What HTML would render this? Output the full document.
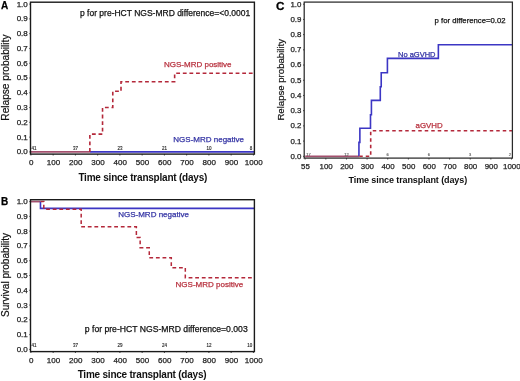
<!DOCTYPE html>
<html><head><meta charset="utf-8"><style>
html,body{margin:0;padding:0;background:#fff;width:520px;height:381px;overflow:hidden;}
svg{display:block;font-family:"Liberation Sans", sans-serif;will-change:transform;}
</style></head><body>
<svg width="520" height="381" viewBox="0 0 520 381">
<rect width="520" height="381" fill="#fff"/>
<path d="M30.90,151.90 L89.86,151.90" fill="none" stroke="#a4506e" stroke-width="1.7" stroke-linejoin="miter"/>
<path d="M89.86,151.90 L254.40,151.90" fill="none" stroke="#3c36c4" stroke-width="1.6" stroke-linejoin="miter"/>
<path d="M89.86,151.90 L89.86,151.90 L89.86,134.16 L102.54,134.16 L102.54,107.56 L112.78,107.56 L112.78,91.30 L121.01,91.30 L121.01,81.70 L174.64,81.70 L174.64,73.27 L254.40,73.27" fill="none" stroke="#b4283a" stroke-width="1.6" stroke-dasharray="3.8 2.8" stroke-linejoin="miter"/>
<line x1="29.30" y1="151.90" x2="30.50" y2="151.90" stroke="#1a1a1a" stroke-width="0.8" />
<text x="27.80" y="154.35" font-size="8" text-anchor="end" font-weight="normal" fill="#222" stroke="#222" stroke-width="0.25" >0.0</text>
<line x1="29.30" y1="137.12" x2="30.50" y2="137.12" stroke="#1a1a1a" stroke-width="0.8" />
<text x="27.80" y="139.57" font-size="8" text-anchor="end" font-weight="normal" fill="#222" stroke="#222" stroke-width="0.25" >0.1</text>
<line x1="29.30" y1="122.34" x2="30.50" y2="122.34" stroke="#1a1a1a" stroke-width="0.8" />
<text x="27.80" y="124.79" font-size="8" text-anchor="end" font-weight="normal" fill="#222" stroke="#222" stroke-width="0.25" >0.2</text>
<line x1="29.30" y1="107.56" x2="30.50" y2="107.56" stroke="#1a1a1a" stroke-width="0.8" />
<text x="27.80" y="110.01" font-size="8" text-anchor="end" font-weight="normal" fill="#222" stroke="#222" stroke-width="0.25" >0.3</text>
<line x1="29.30" y1="92.78" x2="30.50" y2="92.78" stroke="#1a1a1a" stroke-width="0.8" />
<text x="27.80" y="95.23" font-size="8" text-anchor="end" font-weight="normal" fill="#222" stroke="#222" stroke-width="0.25" >0.4</text>
<line x1="29.30" y1="78.00" x2="30.50" y2="78.00" stroke="#1a1a1a" stroke-width="0.8" />
<text x="27.80" y="80.45" font-size="8" text-anchor="end" font-weight="normal" fill="#222" stroke="#222" stroke-width="0.25" >0.5</text>
<line x1="29.30" y1="63.22" x2="30.50" y2="63.22" stroke="#1a1a1a" stroke-width="0.8" />
<text x="27.80" y="65.67" font-size="8" text-anchor="end" font-weight="normal" fill="#222" stroke="#222" stroke-width="0.25" >0.6</text>
<line x1="29.30" y1="48.44" x2="30.50" y2="48.44" stroke="#1a1a1a" stroke-width="0.8" />
<text x="27.80" y="50.89" font-size="8" text-anchor="end" font-weight="normal" fill="#222" stroke="#222" stroke-width="0.25" >0.7</text>
<line x1="29.30" y1="33.66" x2="30.50" y2="33.66" stroke="#1a1a1a" stroke-width="0.8" />
<text x="27.80" y="36.11" font-size="8" text-anchor="end" font-weight="normal" fill="#222" stroke="#222" stroke-width="0.25" >0.8</text>
<line x1="29.30" y1="18.88" x2="30.50" y2="18.88" stroke="#1a1a1a" stroke-width="0.8" />
<text x="27.80" y="21.33" font-size="8" text-anchor="end" font-weight="normal" fill="#222" stroke="#222" stroke-width="0.25" >0.9</text>
<line x1="29.30" y1="4.10" x2="30.50" y2="4.10" stroke="#1a1a1a" stroke-width="0.8" />
<text x="27.80" y="6.55" font-size="8" text-anchor="end" font-weight="normal" fill="#222" stroke="#222" stroke-width="0.25" >1.0</text>
<line x1="30.90" y1="154.10" x2="30.90" y2="155.50" stroke="#1a1a1a" stroke-width="0.8" />
<text x="31.25" y="165.10" font-size="8" text-anchor="middle" font-weight="normal" fill="#222" stroke="#222" stroke-width="0.25" >0</text>
<line x1="53.15" y1="154.10" x2="53.15" y2="155.50" stroke="#1a1a1a" stroke-width="0.8" />
<text x="53.50" y="165.10" font-size="8" text-anchor="middle" font-weight="normal" fill="#222" stroke="#222" stroke-width="0.25" >100</text>
<line x1="75.40" y1="154.10" x2="75.40" y2="155.50" stroke="#1a1a1a" stroke-width="0.8" />
<text x="75.75" y="165.10" font-size="8" text-anchor="middle" font-weight="normal" fill="#222" stroke="#222" stroke-width="0.25" >200</text>
<line x1="97.65" y1="154.10" x2="97.65" y2="155.50" stroke="#1a1a1a" stroke-width="0.8" />
<text x="98.00" y="165.10" font-size="8" text-anchor="middle" font-weight="normal" fill="#222" stroke="#222" stroke-width="0.25" >300</text>
<line x1="119.90" y1="154.10" x2="119.90" y2="155.50" stroke="#1a1a1a" stroke-width="0.8" />
<text x="120.25" y="165.10" font-size="8" text-anchor="middle" font-weight="normal" fill="#222" stroke="#222" stroke-width="0.25" >400</text>
<line x1="142.15" y1="154.10" x2="142.15" y2="155.50" stroke="#1a1a1a" stroke-width="0.8" />
<text x="142.50" y="165.10" font-size="8" text-anchor="middle" font-weight="normal" fill="#222" stroke="#222" stroke-width="0.25" >500</text>
<line x1="164.40" y1="154.10" x2="164.40" y2="155.50" stroke="#1a1a1a" stroke-width="0.8" />
<text x="164.75" y="165.10" font-size="8" text-anchor="middle" font-weight="normal" fill="#222" stroke="#222" stroke-width="0.25" >600</text>
<line x1="186.65" y1="154.10" x2="186.65" y2="155.50" stroke="#1a1a1a" stroke-width="0.8" />
<text x="187.00" y="165.10" font-size="8" text-anchor="middle" font-weight="normal" fill="#222" stroke="#222" stroke-width="0.25" >700</text>
<line x1="208.90" y1="154.10" x2="208.90" y2="155.50" stroke="#1a1a1a" stroke-width="0.8" />
<text x="209.25" y="165.10" font-size="8" text-anchor="middle" font-weight="normal" fill="#222" stroke="#222" stroke-width="0.25" >800</text>
<line x1="231.15" y1="154.10" x2="231.15" y2="155.50" stroke="#1a1a1a" stroke-width="0.8" />
<text x="231.50" y="165.10" font-size="8" text-anchor="middle" font-weight="normal" fill="#222" stroke="#222" stroke-width="0.25" >900</text>
<line x1="253.40" y1="154.10" x2="253.40" y2="155.50" stroke="#1a1a1a" stroke-width="0.8" />
<text x="253.75" y="165.10" font-size="8" text-anchor="middle" font-weight="normal" fill="#222" stroke="#222" stroke-width="0.25" >1000</text>
<rect x="30.50" y="2.20" width="223.90" height="151.90" fill="none" stroke="#1a1a1a" stroke-width="1.4"/>
<text x="0" y="0" font-size="10.15" text-anchor="middle" fill="#111" stroke="#111" stroke-width="0.2" transform="translate(8.70,77.60) rotate(-90)">Relapse probability</text>
<text x="142.75" y="180.50" font-size="10" text-anchor="middle" font-weight="bold" fill="#111" stroke="#111" stroke-width="0" letter-spacing="-0.22">Time since transplant (days)</text>
<text x="31.60" y="149.80" font-size="4.5" text-anchor="start" font-weight="normal" fill="#222" stroke="#222" stroke-width="0.12" >41</text>
<text x="75.40" y="149.80" font-size="4.5" text-anchor="middle" font-weight="normal" fill="#222" stroke="#222" stroke-width="0.12" >37</text>
<text x="119.90" y="149.80" font-size="4.5" text-anchor="middle" font-weight="normal" fill="#222" stroke="#222" stroke-width="0.12" >23</text>
<text x="164.40" y="149.80" font-size="4.5" text-anchor="middle" font-weight="normal" fill="#222" stroke="#222" stroke-width="0.12" >21</text>
<text x="208.90" y="149.80" font-size="4.5" text-anchor="middle" font-weight="normal" fill="#222" stroke="#222" stroke-width="0.12" >10</text>
<text x="252.30" y="149.80" font-size="4.5" text-anchor="end" font-weight="normal" fill="#222" stroke="#222" stroke-width="0.12" >8</text>
<text x="1.00" y="8.60" font-size="10" text-anchor="start" font-weight="bold" fill="#000" stroke="#000" stroke-width="0.25" >A</text>
<text x="80.00" y="16.00" font-size="8.5" text-anchor="start" font-weight="normal" fill="#111" stroke="#111" stroke-width="0.25" >p for pre-HCT NGS-MRD difference=&lt;0.0001</text>
<text x="164.00" y="66.70" font-size="8" text-anchor="start" font-weight="normal" fill="#b8323f" stroke="#b8323f" stroke-width="0.25" >NGS-MRD positive</text>
<text x="173.30" y="141.80" font-size="8" text-anchor="start" font-weight="normal" fill="#3434a4" stroke="#3434a4" stroke-width="0.25" >NGS-MRD negative</text>
<path d="M30.90,201.60 L40.47,201.60" fill="none" stroke="#a4506e" stroke-width="1.7" stroke-linejoin="miter"/>
<path d="M40.47,201.60 L40.47,201.60 L40.47,208.40 L254.40,208.40" fill="none" stroke="#3c36c4" stroke-width="1.6" stroke-linejoin="miter"/>
<path d="M40.47,201.60 L43.80,201.60 L43.80,209.14 L81.19,209.14 L81.19,226.87 L136.37,226.87 L136.37,237.52 L140.15,237.52 L140.15,247.71 L149.27,247.71 L149.27,257.76 L171.30,257.76 L171.30,267.67 L185.31,267.67 L185.31,277.86 L254.40,277.86" fill="none" stroke="#b4283a" stroke-width="1.5" stroke-dasharray="3.8 2.8" stroke-linejoin="miter"/>
<line x1="29.30" y1="349.40" x2="30.50" y2="349.40" stroke="#1a1a1a" stroke-width="0.8" />
<text x="27.80" y="351.85" font-size="8" text-anchor="end" font-weight="normal" fill="#222" stroke="#222" stroke-width="0.25" >0.0</text>
<line x1="29.30" y1="334.62" x2="30.50" y2="334.62" stroke="#1a1a1a" stroke-width="0.8" />
<text x="27.80" y="337.07" font-size="8" text-anchor="end" font-weight="normal" fill="#222" stroke="#222" stroke-width="0.25" >0.1</text>
<line x1="29.30" y1="319.84" x2="30.50" y2="319.84" stroke="#1a1a1a" stroke-width="0.8" />
<text x="27.80" y="322.29" font-size="8" text-anchor="end" font-weight="normal" fill="#222" stroke="#222" stroke-width="0.25" >0.2</text>
<line x1="29.30" y1="305.06" x2="30.50" y2="305.06" stroke="#1a1a1a" stroke-width="0.8" />
<text x="27.80" y="307.51" font-size="8" text-anchor="end" font-weight="normal" fill="#222" stroke="#222" stroke-width="0.25" >0.3</text>
<line x1="29.30" y1="290.28" x2="30.50" y2="290.28" stroke="#1a1a1a" stroke-width="0.8" />
<text x="27.80" y="292.73" font-size="8" text-anchor="end" font-weight="normal" fill="#222" stroke="#222" stroke-width="0.25" >0.4</text>
<line x1="29.30" y1="275.50" x2="30.50" y2="275.50" stroke="#1a1a1a" stroke-width="0.8" />
<text x="27.80" y="277.95" font-size="8" text-anchor="end" font-weight="normal" fill="#222" stroke="#222" stroke-width="0.25" >0.5</text>
<line x1="29.30" y1="260.72" x2="30.50" y2="260.72" stroke="#1a1a1a" stroke-width="0.8" />
<text x="27.80" y="263.17" font-size="8" text-anchor="end" font-weight="normal" fill="#222" stroke="#222" stroke-width="0.25" >0.6</text>
<line x1="29.30" y1="245.94" x2="30.50" y2="245.94" stroke="#1a1a1a" stroke-width="0.8" />
<text x="27.80" y="248.39" font-size="8" text-anchor="end" font-weight="normal" fill="#222" stroke="#222" stroke-width="0.25" >0.7</text>
<line x1="29.30" y1="231.16" x2="30.50" y2="231.16" stroke="#1a1a1a" stroke-width="0.8" />
<text x="27.80" y="233.61" font-size="8" text-anchor="end" font-weight="normal" fill="#222" stroke="#222" stroke-width="0.25" >0.8</text>
<line x1="29.30" y1="216.38" x2="30.50" y2="216.38" stroke="#1a1a1a" stroke-width="0.8" />
<text x="27.80" y="218.83" font-size="8" text-anchor="end" font-weight="normal" fill="#222" stroke="#222" stroke-width="0.25" >0.9</text>
<line x1="29.30" y1="201.60" x2="30.50" y2="201.60" stroke="#1a1a1a" stroke-width="0.8" />
<text x="27.80" y="204.05" font-size="8" text-anchor="end" font-weight="normal" fill="#222" stroke="#222" stroke-width="0.25" >1.0</text>
<line x1="30.90" y1="351.60" x2="30.90" y2="353.00" stroke="#1a1a1a" stroke-width="0.8" />
<text x="31.25" y="362.60" font-size="8" text-anchor="middle" font-weight="normal" fill="#222" stroke="#222" stroke-width="0.25" >0</text>
<line x1="53.15" y1="351.60" x2="53.15" y2="353.00" stroke="#1a1a1a" stroke-width="0.8" />
<text x="53.50" y="362.60" font-size="8" text-anchor="middle" font-weight="normal" fill="#222" stroke="#222" stroke-width="0.25" >100</text>
<line x1="75.40" y1="351.60" x2="75.40" y2="353.00" stroke="#1a1a1a" stroke-width="0.8" />
<text x="75.75" y="362.60" font-size="8" text-anchor="middle" font-weight="normal" fill="#222" stroke="#222" stroke-width="0.25" >200</text>
<line x1="97.65" y1="351.60" x2="97.65" y2="353.00" stroke="#1a1a1a" stroke-width="0.8" />
<text x="98.00" y="362.60" font-size="8" text-anchor="middle" font-weight="normal" fill="#222" stroke="#222" stroke-width="0.25" >300</text>
<line x1="119.90" y1="351.60" x2="119.90" y2="353.00" stroke="#1a1a1a" stroke-width="0.8" />
<text x="120.25" y="362.60" font-size="8" text-anchor="middle" font-weight="normal" fill="#222" stroke="#222" stroke-width="0.25" >400</text>
<line x1="142.15" y1="351.60" x2="142.15" y2="353.00" stroke="#1a1a1a" stroke-width="0.8" />
<text x="142.50" y="362.60" font-size="8" text-anchor="middle" font-weight="normal" fill="#222" stroke="#222" stroke-width="0.25" >500</text>
<line x1="164.40" y1="351.60" x2="164.40" y2="353.00" stroke="#1a1a1a" stroke-width="0.8" />
<text x="164.75" y="362.60" font-size="8" text-anchor="middle" font-weight="normal" fill="#222" stroke="#222" stroke-width="0.25" >600</text>
<line x1="186.65" y1="351.60" x2="186.65" y2="353.00" stroke="#1a1a1a" stroke-width="0.8" />
<text x="187.00" y="362.60" font-size="8" text-anchor="middle" font-weight="normal" fill="#222" stroke="#222" stroke-width="0.25" >700</text>
<line x1="208.90" y1="351.60" x2="208.90" y2="353.00" stroke="#1a1a1a" stroke-width="0.8" />
<text x="209.25" y="362.60" font-size="8" text-anchor="middle" font-weight="normal" fill="#222" stroke="#222" stroke-width="0.25" >800</text>
<line x1="231.15" y1="351.60" x2="231.15" y2="353.00" stroke="#1a1a1a" stroke-width="0.8" />
<text x="231.50" y="362.60" font-size="8" text-anchor="middle" font-weight="normal" fill="#222" stroke="#222" stroke-width="0.25" >900</text>
<line x1="253.40" y1="351.60" x2="253.40" y2="353.00" stroke="#1a1a1a" stroke-width="0.8" />
<text x="253.75" y="362.60" font-size="8" text-anchor="middle" font-weight="normal" fill="#222" stroke="#222" stroke-width="0.25" >1000</text>
<rect x="30.50" y="199.70" width="223.90" height="151.90" fill="none" stroke="#1a1a1a" stroke-width="1.4"/>
<text x="0" y="0" font-size="10" text-anchor="middle" fill="#111" stroke="#111" stroke-width="0.2" transform="translate(8.70,275.00) rotate(-90)">Survival probability</text>
<text x="142.00" y="378.10" font-size="10" text-anchor="middle" font-weight="bold" fill="#111" stroke="#111" stroke-width="0" letter-spacing="-0.22">Time since transplant (days)</text>
<text x="31.60" y="347.30" font-size="4.5" text-anchor="start" font-weight="normal" fill="#222" stroke="#222" stroke-width="0.12" >41</text>
<text x="75.40" y="347.30" font-size="4.5" text-anchor="middle" font-weight="normal" fill="#222" stroke="#222" stroke-width="0.12" >37</text>
<text x="119.90" y="347.30" font-size="4.5" text-anchor="middle" font-weight="normal" fill="#222" stroke="#222" stroke-width="0.12" >29</text>
<text x="164.40" y="347.30" font-size="4.5" text-anchor="middle" font-weight="normal" fill="#222" stroke="#222" stroke-width="0.12" >24</text>
<text x="208.90" y="347.30" font-size="4.5" text-anchor="middle" font-weight="normal" fill="#222" stroke="#222" stroke-width="0.12" >12</text>
<text x="252.30" y="347.30" font-size="4.5" text-anchor="end" font-weight="normal" fill="#222" stroke="#222" stroke-width="0.12" >10</text>
<text x="1.00" y="205.00" font-size="10" text-anchor="start" font-weight="bold" fill="#000" stroke="#000" stroke-width="0.25" >B</text>
<text x="84.80" y="331.60" font-size="8.63" text-anchor="start" font-weight="normal" fill="#111" stroke="#111" stroke-width="0.25" >p for pre-HCT NGS-MRD difference=0.003</text>
<text x="175.60" y="287.00" font-size="8" text-anchor="start" font-weight="normal" fill="#b8323f" stroke="#b8323f" stroke-width="0.25" >NGS-MRD positive</text>
<text x="118.20" y="216.90" font-size="8" text-anchor="start" font-weight="normal" fill="#3434a4" stroke="#3434a4" stroke-width="0.25" >NGS-MRD negative</text>
<path d="M305.20,156.30 L358.94,156.30" fill="none" stroke="#a4506e" stroke-width="1.7" stroke-linejoin="miter"/>
<path d="M358.94,156.30 L358.94,156.30 L358.94,142.40 L359.87,142.40 L359.87,128.31 L370.49,128.31 L370.49,114.70 L371.42,114.70 L371.42,100.40 L380.29,100.40 L380.29,86.79 L381.22,86.79 L381.22,72.71 L387.41,72.71 L387.41,58.39 L438.37,58.39 L438.37,44.81 L512.40,44.81" fill="none" stroke="#3c36c4" stroke-width="1.6" stroke-linejoin="miter"/>
<path d="M359.25,156.30 L370.70,156.30 L370.70,130.79 L512.40,130.79" fill="none" stroke="#b4283a" stroke-width="1.6" stroke-dasharray="3.5 3.0" stroke-linejoin="miter"/>
<line x1="303.00" y1="156.30" x2="304.20" y2="156.30" stroke="#1a1a1a" stroke-width="0.8" />
<text x="301.40" y="158.75" font-size="7.9" text-anchor="end" font-weight="normal" fill="#222" stroke="#222" stroke-width="0.25" >0.0</text>
<line x1="303.00" y1="141.09" x2="304.20" y2="141.09" stroke="#1a1a1a" stroke-width="0.8" />
<text x="301.40" y="143.54" font-size="7.9" text-anchor="end" font-weight="normal" fill="#222" stroke="#222" stroke-width="0.25" >0.1</text>
<line x1="303.00" y1="125.88" x2="304.20" y2="125.88" stroke="#1a1a1a" stroke-width="0.8" />
<text x="301.40" y="128.33" font-size="7.9" text-anchor="end" font-weight="normal" fill="#222" stroke="#222" stroke-width="0.25" >0.2</text>
<line x1="303.00" y1="110.67" x2="304.20" y2="110.67" stroke="#1a1a1a" stroke-width="0.8" />
<text x="301.40" y="113.12" font-size="7.9" text-anchor="end" font-weight="normal" fill="#222" stroke="#222" stroke-width="0.25" >0.3</text>
<line x1="303.00" y1="95.46" x2="304.20" y2="95.46" stroke="#1a1a1a" stroke-width="0.8" />
<text x="301.40" y="97.91" font-size="7.9" text-anchor="end" font-weight="normal" fill="#222" stroke="#222" stroke-width="0.25" >0.4</text>
<line x1="303.00" y1="80.25" x2="304.20" y2="80.25" stroke="#1a1a1a" stroke-width="0.8" />
<text x="301.40" y="82.70" font-size="7.9" text-anchor="end" font-weight="normal" fill="#222" stroke="#222" stroke-width="0.25" >0.5</text>
<line x1="303.00" y1="65.04" x2="304.20" y2="65.04" stroke="#1a1a1a" stroke-width="0.8" />
<text x="301.40" y="67.49" font-size="7.9" text-anchor="end" font-weight="normal" fill="#222" stroke="#222" stroke-width="0.25" >0.6</text>
<line x1="303.00" y1="49.83" x2="304.20" y2="49.83" stroke="#1a1a1a" stroke-width="0.8" />
<text x="301.40" y="52.28" font-size="7.9" text-anchor="end" font-weight="normal" fill="#222" stroke="#222" stroke-width="0.25" >0.7</text>
<line x1="303.00" y1="34.62" x2="304.20" y2="34.62" stroke="#1a1a1a" stroke-width="0.8" />
<text x="301.40" y="37.07" font-size="7.9" text-anchor="end" font-weight="normal" fill="#222" stroke="#222" stroke-width="0.25" >0.8</text>
<line x1="303.00" y1="19.41" x2="304.20" y2="19.41" stroke="#1a1a1a" stroke-width="0.8" />
<text x="301.40" y="21.86" font-size="7.9" text-anchor="end" font-weight="normal" fill="#222" stroke="#222" stroke-width="0.25" >0.9</text>
<line x1="303.00" y1="4.20" x2="304.20" y2="4.20" stroke="#1a1a1a" stroke-width="0.8" />
<text x="301.40" y="6.65" font-size="7.9" text-anchor="end" font-weight="normal" fill="#222" stroke="#222" stroke-width="0.25" >1.0</text>
<line x1="305.10" y1="158.10" x2="305.10" y2="159.50" stroke="#1a1a1a" stroke-width="0.8" />
<text x="305.45" y="169.00" font-size="7.9" text-anchor="middle" font-weight="normal" fill="#222" stroke="#222" stroke-width="0.25" >55</text>
<line x1="325.83" y1="158.10" x2="325.83" y2="159.50" stroke="#1a1a1a" stroke-width="0.8" />
<text x="326.18" y="169.00" font-size="7.9" text-anchor="middle" font-weight="normal" fill="#222" stroke="#222" stroke-width="0.25" >100</text>
<line x1="346.46" y1="158.10" x2="346.46" y2="159.50" stroke="#1a1a1a" stroke-width="0.8" />
<text x="346.81" y="169.00" font-size="7.9" text-anchor="middle" font-weight="normal" fill="#222" stroke="#222" stroke-width="0.25" >200</text>
<line x1="367.09" y1="158.10" x2="367.09" y2="159.50" stroke="#1a1a1a" stroke-width="0.8" />
<text x="367.44" y="169.00" font-size="7.9" text-anchor="middle" font-weight="normal" fill="#222" stroke="#222" stroke-width="0.25" >300</text>
<line x1="387.72" y1="158.10" x2="387.72" y2="159.50" stroke="#1a1a1a" stroke-width="0.8" />
<text x="388.07" y="169.00" font-size="7.9" text-anchor="middle" font-weight="normal" fill="#222" stroke="#222" stroke-width="0.25" >400</text>
<line x1="408.35" y1="158.10" x2="408.35" y2="159.50" stroke="#1a1a1a" stroke-width="0.8" />
<text x="408.70" y="169.00" font-size="7.9" text-anchor="middle" font-weight="normal" fill="#222" stroke="#222" stroke-width="0.25" >500</text>
<line x1="428.98" y1="158.10" x2="428.98" y2="159.50" stroke="#1a1a1a" stroke-width="0.8" />
<text x="429.33" y="169.00" font-size="7.9" text-anchor="middle" font-weight="normal" fill="#222" stroke="#222" stroke-width="0.25" >600</text>
<line x1="449.61" y1="158.10" x2="449.61" y2="159.50" stroke="#1a1a1a" stroke-width="0.8" />
<text x="449.96" y="169.00" font-size="7.9" text-anchor="middle" font-weight="normal" fill="#222" stroke="#222" stroke-width="0.25" >700</text>
<line x1="470.24" y1="158.10" x2="470.24" y2="159.50" stroke="#1a1a1a" stroke-width="0.8" />
<text x="470.59" y="169.00" font-size="7.9" text-anchor="middle" font-weight="normal" fill="#222" stroke="#222" stroke-width="0.25" >800</text>
<line x1="490.87" y1="158.10" x2="490.87" y2="159.50" stroke="#1a1a1a" stroke-width="0.8" />
<text x="491.22" y="169.00" font-size="7.9" text-anchor="middle" font-weight="normal" fill="#222" stroke="#222" stroke-width="0.25" >900</text>
<line x1="511.50" y1="158.10" x2="511.50" y2="159.50" stroke="#1a1a1a" stroke-width="0.8" />
<text x="511.85" y="169.00" font-size="7.9" text-anchor="middle" font-weight="normal" fill="#222" stroke="#222" stroke-width="0.25" >1000</text>
<rect x="304.20" y="2.10" width="208.20" height="156.00" fill="none" stroke="#2a2a2a" stroke-width="1.25"/>
<text x="0" y="0" font-size="9.6" text-anchor="middle" fill="#111" stroke="#111" stroke-width="0.2" transform="translate(283.80,79.80) rotate(-90)">Relapse probability</text>
<text x="407.80" y="183.10" font-size="9" text-anchor="middle" font-weight="bold" fill="#111" stroke="#111" stroke-width="0" letter-spacing="-0.1">Time since transplant (days)</text>
<text x="306.30" y="155.60" font-size="4.0" text-anchor="start" font-weight="normal" fill="#555" stroke="#555" stroke-width="0.12" >17</text>
<text x="346.46" y="155.60" font-size="4.0" text-anchor="middle" font-weight="normal" fill="#555" stroke="#555" stroke-width="0.12" >12</text>
<text x="387.72" y="155.60" font-size="4.0" text-anchor="middle" font-weight="normal" fill="#555" stroke="#555" stroke-width="0.12" >6</text>
<text x="428.98" y="155.60" font-size="4.0" text-anchor="middle" font-weight="normal" fill="#555" stroke="#555" stroke-width="0.12" >6</text>
<text x="470.24" y="155.60" font-size="4.0" text-anchor="middle" font-weight="normal" fill="#555" stroke="#555" stroke-width="0.12" >3</text>
<text x="511.00" y="155.60" font-size="4.0" text-anchor="end" font-weight="normal" fill="#555" stroke="#555" stroke-width="0.12" >2</text>
<text x="0" y="0" font-size="10" font-weight="bold" fill="#000" stroke="#000" stroke-width="0.25" transform="translate(275.9,9.5) scale(1.17,1)">C</text>
<text x="434.60" y="23.10" font-size="7.72" text-anchor="start" font-weight="normal" fill="#111" stroke="#111" stroke-width="0.25" >p for difference=0.02</text>
<text x="398.00" y="56.50" font-size="7.5" text-anchor="start" font-weight="normal" fill="#3434a4" stroke="#3434a4" stroke-width="0.25" >No aGVHD</text>
<text x="415.60" y="128.40" font-size="7.85" text-anchor="start" font-weight="normal" fill="#b8323f" stroke="#b8323f" stroke-width="0.25" >aGVHD</text>
</svg>
</body></html>
